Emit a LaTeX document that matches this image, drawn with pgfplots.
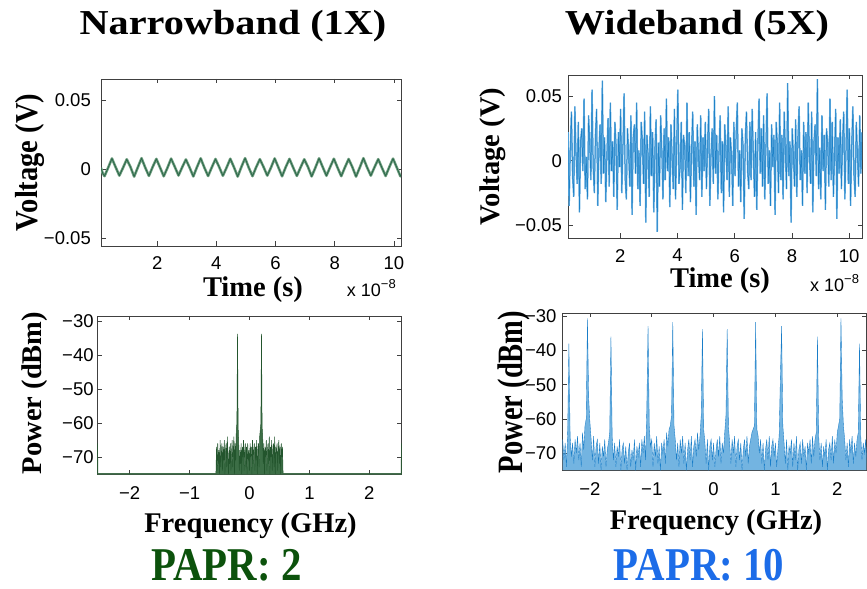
\documentclass[border=0pt]{standalone}
\usepackage{fontspec}
\setmainfont{Liberation Serif}
\newfontfamily\arial{Liberation Sans}
\usepackage{graphicx}
\usepackage{pgfplots}
\pgfplotsset{compat=1.18}
\usepackage{pgfplotstable}

\definecolor{ngline}{RGB}{45,105,75}
\definecolor{nglight}{RGB}{115,160,130}
\definecolor{ngspec}{RGB}{35,85,45}
\definecolor{ngfill}{RGB}{60,110,70}
\definecolor{wbline}{RGB}{25,125,200}
\definecolor{wbtime}{RGB}{30,130,200}
\definecolor{wbtimel}{RGB}{105,175,225}
\definecolor{wblight}{RGB}{115,180,225}
\definecolor{paprg}{RGB}{12,82,12}
\definecolor{paprb}{RGB}{28,108,232}

\pgfplotsset{mat/.style={scale only axis, anchor=south west,
  axis line style={black!75,line width=0.7bp},
  every tick/.style={black!75,line width=0.6bp},
  major tick length=4.5bp, tick align=inside,
  ticklabel style={font=\arial\fontsize{18.5bp}{20bp}\selectfont, inner sep=0pt},
  xticklabel style={anchor=north}, yticklabel style={anchor=east}}}

\pgfplotstableread{
x y
0.10 1.0
0.16 -3.0
0.22 -5.0
0.345 1.3
0.47 7.8
0.595 1.5
0.72 -4.6
0.845 1.1
0.97 7.2
1.095 1.7
1.22 -5.3
1.345 1.4
1.47 8.0
1.595 1.2
1.72 -4.8
1.845 1.6
1.97 7.5
2.095 1.3
2.22 -5.1
2.345 1.0
2.47 7.7
2.595 1.7
2.72 -4.5
2.845 1.5
2.97 7.1
3.095 1.2
3.22 -5.2
3.345 1.6
3.47 7.9
3.595 1.1
3.72 -4.9
3.845 1.4
3.97 7.4
4.095 1.6
4.22 -4.7
4.345 1.2
4.47 7.6
4.595 1.4
4.72 -5.3
4.845 1.7
4.97 8.0
5.095 1.1
5.22 -5.0
5.345 1.5
5.47 7.3
5.595 1.6
5.72 -4.6
5.845 1.2
5.97 7.8
6.095 1.4
6.22 -5.1
6.345 1.6
6.47 7.5
6.595 1.2
6.72 -4.8
6.845 1.3
6.97 7.2
7.095 1.7
7.22 -5.2
7.345 1.1
7.47 7.9
7.595 1.5
7.72 -4.7
7.845 1.6
7.97 7.6
8.095 1.2
8.22 -5.0
8.345 1.4
8.47 7.4
8.595 1.6
8.72 -5.3
8.845 1.2
8.97 8.0
9.095 1.3
9.22 -4.6
9.345 1.5
9.47 7.3
9.595 1.1
9.72 -4.9
9.845 1.6
9.97 7.7
10.095 1.4
10.22 -5.1
10.24 -4.0
}\narrowtime

\pgfplotstableread{
x y
0.17 22
0.21 -35
0.25 10
0.29 38
0.33 -12
0.37 -28
0.41 42
0.45 5
0.49 -18
0.53 30
0.57 -40
0.61 15
0.65 25
0.69 -8
0.73 48
0.77 -22
0.81 3
0.85 -30
0.89 35
0.93 12
0.97 -15
1.01 55
1.05 -5
1.09 -25
1.13 20
1.17 40
1.21 -35
1.25 8
1.29 28
1.33 -18
1.37 62
1.41 -10
1.45 18
1.49 -32
1.53 5
1.57 33
1.61 -20
1.65 45
1.69 -8
1.73 15
1.77 -28
1.81 30
1.85 12
1.89 -38
1.93 22
1.97 -5
2.01 40
2.05 -25
2.09 10
2.13 52
2.17 -15
2.21 -30
2.25 25
2.29 6
2.33 -20
2.37 35
2.41 -42
2.45 18
2.49 28
2.53 -10
2.57 45
2.61 -22
2.65 8
2.69 -35
2.73 30
2.77 15
2.81 -18
2.85 38
2.89 -48
2.93 20
2.97 5
3.01 -28
3.05 42
3.09 -12
3.13 22
3.17 -40
3.21 10
3.25 32
3.29 -55
3.33 14
3.37 -20
3.41 35
3.45 8
3.49 -30
3.53 25
3.57 -15
3.61 48
3.65 -8
3.69 18
3.73 -36
3.77 28
3.81 3
3.85 -22
3.89 40
3.93 -30
3.97 12
4.01 55
4.05 -18
4.09 -5
4.13 30
4.17 -38
4.21 20
4.25 10
4.29 -25
4.33 45
4.37 -12
4.41 22
4.45 -32
4.49 8
4.53 38
4.57 -20
4.61 15
4.65 -42
4.69 28
4.73 5
4.77 -15
4.81 35
4.85 -28
4.89 18
4.93 -8
4.97 30
5.01 -22
5.05 12
5.09 40
5.13 -35
5.17 5
5.21 25
5.25 -18
5.29 50
5.33 -10
5.37 20
5.41 -30
5.45 8
5.49 35
5.53 -25
5.57 15
5.61 -40
5.65 28
5.69 10
5.73 -15
5.77 42
5.81 -28
5.85 18
5.89 3
5.93 -35
5.97 30
6.01 -12
6.05 22
6.09 45
6.13 -20
6.17 8
6.21 -32
6.25 25
6.29 12
6.33 -45
6.37 18
6.41 38
6.45 -8
6.49 -22
6.53 30
6.57 -15
6.61 40
6.65 5
6.69 -28
6.73 22
6.77 -38
6.81 15
6.85 48
6.89 -10
6.93 25
6.97 -20
7.01 35
7.05 -30
7.09 10
7.13 52
7.17 -18
7.21 8
7.25 -35
7.29 28
7.33 -5
7.37 20
7.41 -42
7.45 30
7.49 12
7.53 -25
7.57 45
7.61 -15
7.65 20
7.69 -30
7.73 38
7.77 8
7.81 -22
7.85 60
7.89 -12
7.93 15
7.97 -48
8.01 25
8.05 5
8.09 -20
8.13 32
8.17 -28
8.21 18
8.25 42
8.29 -15
8.33 8
8.37 -35
8.41 30
8.45 -10
8.49 22
8.53 -25
8.57 45
8.61 5
8.65 -18
8.69 38
8.73 -40
8.77 15
8.81 28
8.85 -12
8.89 63
8.93 -22
8.97 10
9.01 -30
9.05 35
9.09 -8
9.13 20
9.17 -38
9.21 25
9.25 12
9.29 -20
9.33 48
9.37 -15
9.41 30
9.45 -28
9.49 5
9.53 40
9.57 -45
9.61 18
9.65 -10
9.69 32
9.73 -22
9.77 15
9.81 38
9.85 -30
9.89 8
9.93 55
9.97 -18
10.01 25
10.05 -35
10.09 12
10.13 42
10.17 -12
10.21 -28
10.25 30
10.29 5
10.33 -20
10.37 35
10.41 -10
10.45 22
}\widetime

\begin{document}
\begin{tikzpicture}[x=1bp,y=1bp]
\path[use as bounding box] (0,0) rectangle (867,589);

% ---------- Narrowband time ----------
\begin{axis}[mat, at={(101bp,343bp)}, width=300bp, height=167bp,
  xmin=0.1, xmax=10.24, ymin=-55.6, ymax=65.4,
  xtick={2,4,6,8,10}, xticklabels={2,4,6,8,10},
  ytick={-50,0,50}, yticklabels={−0.05,0,0.05},
  xticklabel style={yshift=-10.7bp}, yticklabel style={xshift=-10bp}]
\addplot[nglight, line width=2.6bp, line join=round] table[x=x,y=y] {\narrowtime};
\addplot[ngline, line width=0.9bp, line join=round] table[x=x,y=y] {\narrowtime};
\end{axis}

% ---------- Wideband time ----------
\begin{axis}[mat, at={(568bp,351bp)}, width=294bp, height=163bp,
  xmin=0.17, xmax=10.45, ymin=-59.8, ymax=66.3,
  xtick={2,4,6,8,10}, xticklabels={2,4,6,8,10},
  ytick={-50,0,50}, yticklabels={−0.05,0,0.05},
  xticklabel style={yshift=-11bp}, yticklabel style={xshift=-6bp}]
\addplot[wbtimel, line width=1.5bp] table[x=x,y=y] {\widetime};
\addplot[wbtime, line width=0.5bp] table[x=x,y=y] {\widetime};
\end{axis}

% ---------- Narrowband spectrum ----------
\begin{axis}[mat, at={(97.3bp,114.3bp)}, width=304.4bp, height=158.7bp,
  xmin=-2.54, xmax=2.54, ymin=-75.2, ymax=-28.5,
  xtick={-2,-1,0,1,2}, xticklabels={−2,−1,0,1,2},
  ytick={-70,-60,-50,-40,-30}, yticklabels={−70,−60,−50,−40,−30},
  xticklabel style={yshift=-12bp}, yticklabel style={xshift=-3.5bp}]
\addplot[ngspec, line width=0.5bp, fill=ngfill] coordinates {
(-2.545,-75.2) (-2.535,-66) (-2.53,-74.8) (-0.56,-74.8)
(-0.55,-67) (-0.54,-74) (-0.53,-66) (-0.52,-72) (-0.51,-68) (-0.50,-75) (-0.49,-65) (-0.48,-73) (-0.47,-69) (-0.46,-66)
(-0.45,-74) (-0.44,-67) (-0.43,-71) (-0.42,-65) (-0.41,-75) (-0.40,-68) (-0.39,-66) (-0.38,-73) (-0.37,-64) (-0.36,-70)
(-0.35,-75) (-0.34,-67) (-0.33,-72) (-0.32,-66) (-0.31,-74) (-0.30,-69) (-0.29,-65) (-0.28,-73) (-0.27,-68) (-0.26,-64)
(-0.25,-75) (-0.24,-66) (-0.23,-71) (-0.22,-62) (-0.21,-60) (-0.20,-33.8) (-0.19,-61) (-0.18,-66) (-0.17,-74) (-0.16,-68)
(-0.15,-72) (-0.14,-66) (-0.13,-75) (-0.12,-67) (-0.11,-70) (-0.10,-65) (-0.09,-74) (-0.08,-68) (-0.07,-66) (-0.06,-73)
(-0.05,-67) (-0.04,-75) (-0.03,-66) (-0.02,-71) (-0.01,-68) (0.00,-74) (0.01,-66) (0.02,-70) (0.03,-67) (0.04,-75)
(0.05,-65) (0.06,-72) (0.07,-68) (0.08,-66) (0.09,-74) (0.10,-67) (0.11,-71) (0.12,-65) (0.13,-75) (0.14,-68)
(0.15,-66) (0.16,-73) (0.17,-64) (0.18,-62) (0.19,-60) (0.20,-33.8) (0.21,-61) (0.22,-64) (0.23,-72) (0.24,-66)
(0.25,-75) (0.26,-67) (0.27,-70) (0.28,-65) (0.29,-74) (0.30,-68) (0.31,-66) (0.32,-72) (0.33,-64) (0.34,-75)
(0.35,-67) (0.36,-70) (0.37,-65) (0.38,-74) (0.39,-68) (0.40,-66) (0.41,-73) (0.42,-64) (0.43,-75) (0.44,-67)
(0.45,-69) (0.46,-66) (0.47,-74) (0.48,-68) (0.49,-65) (0.50,-72) (0.51,-67) (0.52,-75) (0.53,-66) (0.54,-70)
(0.55,-67) (0.56,-74.8) (2.53,-74.8) (2.535,-66) (2.545,-75.2)
};
\end{axis}

% ---------- Wideband spectrum ----------
\begin{axis}[mat, at={(562.7bp,118.3bp)}, width=303.6bp, height=157.7bp,
  xmin=-2.44, xmax=2.47, ymin=-75.1, ymax=-29.1,
  xtick={-2,-1,0,1,2}, xticklabels={−2,−1,0,1,2},
  ytick={-70,-60,-50,-40,-30}, yticklabels={−70,−60,−50,−40,−30},
  xticklabel style={yshift=-12bp}, yticklabel style={xshift=-6bp}]
\addplot[wbline, line width=0.35bp, fill=wblight] coordinates {
(-2.45,-74.9) (-2.44,-66) (-2.42,-72) (-2.40,-67) (-2.38,-74) (-2.36,-64) (-2.34,-38) (-2.32,-65) (-2.30,-71) (-2.28,-67) (-2.26,-73)
(-2.24,-66) (-2.22,-70) (-2.20,-65) (-2.18,-72) (-2.16,-67) (-2.14,-74) (-2.12,-64) (-2.10,-69) (-2.08,-62) (-2.06,-60)
(-2.04,-30.7) (-2.02,-54) (-2.00,-61) (-1.98,-66) (-1.96,-72) (-1.94,-65) (-1.92,-74) (-1.90,-68) (-1.88,-66) (-1.86,-73)
(-1.84,-67) (-1.82,-75) (-1.80,-68) (-1.78,-71) (-1.76,-66) (-1.74,-74) (-1.72,-69) (-1.70,-67) (-1.68,-64) (-1.66,-36)
(-1.64,-65) (-1.62,-72) (-1.60,-67) (-1.58,-74) (-1.56,-68) (-1.54,-71) (-1.52,-66) (-1.50,-75) (-1.48,-69) (-1.46,-67)
(-1.44,-73) (-1.42,-68) (-1.40,-75) (-1.38,-70) (-1.36,-67) (-1.34,-74) (-1.32,-69) (-1.30,-72) (-1.28,-66) (-1.26,-75)
(-1.24,-68) (-1.22,-71) (-1.20,-67) (-1.18,-74) (-1.16,-66) (-1.14,-70) (-1.12,-65) (-1.10,-72) (-1.08,-57) (-1.06,-32.9)
(-1.04,-62) (-1.02,-68) (-1.00,-66) (-0.98,-74) (-0.96,-67) (-0.94,-71) (-0.92,-65) (-0.90,-73) (-0.88,-68) (-0.86,-75)
(-0.84,-67) (-0.82,-70) (-0.80,-66) (-0.78,-73) (-0.76,-64) (-0.74,-68) (-0.72,-63) (-0.70,-62) (-0.68,-59) (-0.66,-31.8)
(-0.64,-62) (-0.62,-66) (-0.60,-72) (-0.58,-67) (-0.56,-74) (-0.54,-66) (-0.52,-70) (-0.50,-65) (-0.48,-73) (-0.46,-67)
(-0.44,-75) (-0.42,-69) (-0.40,-66) (-0.38,-72) (-0.36,-65) (-0.34,-74) (-0.32,-68) (-0.30,-66) (-0.28,-71) (-0.26,-64)
(-0.24,-69) (-0.22,-65) (-0.20,-59) (-0.18,-33.8) (-0.16,-63) (-0.14,-67) (-0.12,-73) (-0.10,-66) (-0.08,-75) (-0.06,-68)
(-0.04,-66) (-0.02,-72) (0.00,-67) (0.02,-74) (0.04,-69) (0.06,-66) (0.08,-71) (0.10,-65) (0.12,-73) (0.14,-67)
(0.16,-70) (0.18,-64) (0.20,-59) (0.22,-33.8) (0.24,-62) (0.26,-67) (0.28,-73) (0.30,-66) (0.32,-70) (0.34,-65)
(0.36,-74) (0.38,-68) (0.40,-66) (0.42,-72) (0.44,-67) (0.46,-75) (0.48,-69) (0.50,-66) (0.52,-71) (0.54,-65)
(0.56,-73) (0.58,-68) (0.60,-66) (0.62,-64) (0.64,-63) (0.66,-62) (0.68,-31.8) (0.70,-63) (0.72,-65) (0.74,-70)
(0.76,-66) (0.78,-73) (0.80,-67) (0.82,-75) (0.84,-69) (0.86,-66) (0.88,-72) (0.90,-65) (0.92,-74) (0.94,-68)
(0.96,-66) (0.98,-71) (1.00,-67) (1.02,-74) (1.04,-69) (1.06,-65) (1.08,-48) (1.10,-32.9) (1.12,-62) (1.14,-67)
(1.16,-73) (1.18,-66) (1.20,-75) (1.22,-68) (1.24,-70) (1.26,-66) (1.28,-74) (1.30,-67) (1.32,-72) (1.34,-65)
(1.36,-75) (1.38,-69) (1.40,-67) (1.42,-73) (1.44,-66) (1.46,-71) (1.48,-68) (1.50,-75) (1.52,-67) (1.54,-70)
(1.56,-66) (1.58,-73) (1.60,-65) (1.62,-71) (1.64,-66) (1.66,-64) (1.68,-36) (1.70,-65) (1.72,-72) (1.74,-67)
(1.76,-74) (1.78,-68) (1.80,-71) (1.82,-66) (1.84,-75) (1.86,-69) (1.88,-67) (1.90,-72) (1.92,-65) (1.94,-73)
(1.96,-66) (1.98,-70) (2.00,-64) (2.02,-62) (2.04,-60) (2.06,-30.7) (2.08,-54) (2.10,-62) (2.12,-66) (2.14,-72)
(2.16,-67) (2.18,-74) (2.20,-66) (2.22,-70) (2.24,-65) (2.26,-73) (2.28,-67) (2.30,-71) (2.32,-66) (2.34,-64)
(2.36,-38) (2.38,-65) (2.40,-72) (2.42,-67) (2.44,-70) (2.46,-66) (2.48,-74.9)
};
\end{axis}

% ---------- Text ----------
\node[anchor=base] at (233,554) {\scalebox{1.15}[1]{\fontsize{35bp}{36bp}\selectfont\bfseries Narrowband (1X)}};
\node[anchor=base] at (697,554) {\scalebox{1.15}[1]{\fontsize{35bp}{36bp}\selectfont\bfseries Wideband (5X)}};

\node[anchor=base, rotate=90] at (37,426.5) {\scalebox{1}[1.12]{\fontsize{28.5bp}{30bp}\selectfont\bfseries Voltage (V)}};
\node[anchor=base, rotate=90] at (499,432.5) {\fontsize{28.5bp}{30bp}\selectfont\bfseries Voltage (V)};
\node[anchor=base, rotate=90] at (41,196) {\fontsize{28.5bp}{30bp}\selectfont\bfseries Power (dBm)};
\node[anchor=base, rotate=90] at (522,197) {\scalebox{1}[1.25]{\fontsize{28.5bp}{30bp}\selectfont\bfseries Power (dBm)}};

\node[anchor=base] at (253,292) {\fontsize{28.5bp}{30bp}\selectfont\bfseries Time (s)};
\node[anchor=base] at (720,301) {\fontsize{28.5bp}{30bp}\selectfont\bfseries Time (s)};
\node[anchor=base west, inner sep=0pt] at (346.7,292) {\arial\fontsize{18bp}{20bp}\selectfont x 10\raisebox{8bp}{\fontsize{13bp}{14bp}\selectfont −8}};
\node[anchor=base west, inner sep=0pt] at (810,297) {\arial\fontsize{18bp}{20bp}\selectfont x 10\raisebox{8bp}{\fontsize{13bp}{14bp}\selectfont −8}};

\node[anchor=base] at (250.5,56) {\fontsize{28.5bp}{30bp}\selectfont\bfseries Frequency (GHz)};
\node[anchor=base] at (716,59) {\fontsize{28.5bp}{30bp}\selectfont\bfseries Frequency (GHz)};

\node[anchor=base, text=paprg, inner sep=0pt] at (226.5,8.5) {\scalebox{0.87}[1]{\fontsize{47bp}{48bp}\selectfont\bfseries PAPR: 2}};
\node[anchor=base, text=paprb, inner sep=0pt] at (699,8.5) {\scalebox{0.87}[1]{\fontsize{47bp}{48bp}\selectfont\bfseries PAPR: 10}};
\end{tikzpicture}
\end{document}
